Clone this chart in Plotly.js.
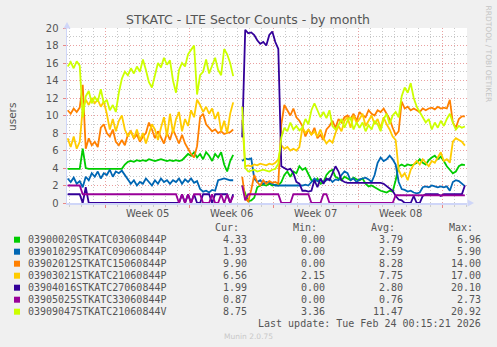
<!DOCTYPE html>
<html><head><meta charset="utf-8">
<script src="https://cdn.plot.ly/plotly-3.0.1.min.js"></script>
<style>html,body{margin:0;padding:0;background:#f0f0f0;}#chart{width:497px;height:347px;}</style>
</head><body><div id="chart"></div>
<script>
// ---- data ----
const startDay = -3.125;   // days relative to start of Week 05
const stepDay = 0.25;      // sample spacing in days
const weekStarts = [0, 7, 14, 21, 28];
const weekCenters = [3.5, 10.5, 17.5, 24.5];
const weekLabels = ['Week 05', 'Week 06', 'Week 07', 'Week 08'];
const yTicks = [0, 2, 4, 6, 8, 10, 12, 14, 16, 18, 20];

const names = ['03900020STKATC03060844P','03901029STKATC09060844P','03902012STKATC15060844P','03903021STKATC21060844P','03904016STKATC27060844P','03905025STKATC33060844P','03909047STKATC21060844V'];
const colors = ['#00cc00','#0066b3','#ff8000','#ffcc00','#330099','#990099','#ccff00'];
const curVals = ['4.33','1.93','9.90','6.56','1.99','0.87','8.75'];
const minVals = ['0.00','0.00','0.00','2.15','0.00','0.00','3.36'];
const avgVals = ['3.79','2.59','8.28','7.75','2.80','0.76','11.47'];
const maxVals = ['6.96','5.90','14.00','17.00','20.10','2.73','20.92'];
const lastUpdate = 'Last update: Tue Feb 24 00:15:21 2026';

const s0 = [3.9,3.9,3.9,3.9,3.9,6.2,
4.0,3.9,3.9,3.9,3.9,3.9,3.9,3.9,3.9,3.9,3.9,3.9,3.9,4.4,
4.7,4.8,4.7,4.9,4.8,4.9,4.8,5.0,4.9,4.8,4.9,5.0,4.9,4.8,4.9,
4.8,4.9,4.8,4.9,5.2,5.6,5.4,5.8,5.2,5.6,5.0,5.8,5.4,4.8,5.6,5.2,5.8,4.4,3.6,4.8,5.5,
null,null,
2.0,1.0,0.2,0.3,0.6,1.8,2.0,2.1,2.0,2.2,2.0,2.1,2.0,
2.4,3.2,3.6,3.0,3.6,3.4,4.2,3.8,4.0,3.2,2.6,2.4,2.8,2.2,2.4,3.2,3.6,3.8,3.0,2.8,2.6,3.0,2.8,2.6,2.9,2.7,2.6,2.8,2.2,
1.9,2.0,1.8,1.6,1.4,1.3,1.2,1.4,1.3,2.6,4.2,4.4,4.2,4.4,4.3,4.4,4.6,5.0,4.6,4.4,4.9,5.2,5.4,5.0,5.3,4.8,4.2,3.8,3.4,3.6,4.2,4.4,4.33];

const s1 = [2.8,2.4,2.9,2.2,2.5,1.8,
3.0,2.6,3.4,3.0,3.6,2.8,3.4,3.2,3.8,3.0,3.6,3.4,3.7,3.2,
2.6,2.2,2.6,2.0,2.4,2.2,2.8,2.4,2.0,2.6,2.2,2.8,2.4,2.6,2.2,
2.6,2.4,2.8,2.2,2.7,2.4,2.8,2.3,2.5,1.6,1.3,1.4,1.2,1.5,1.4,2.6,2.7,2.8,2.7,2.6,2.6,
null,null,
4.8,5.1,5.0,5.1,2.8,2.4,2.6,2.2,2.4,2.3,2.2,2.0,2.0,
2.0,2.0,2.0,2.0,2.0,2.0,2.0,2.0,2.1,2.0,
2.4,2.8,2.5,2.6,2.4,2.6,2.8,2.4,2.7,2.6,3.2,3.6,3.4,2.6,2.8,2.4,2.7,2.8,2.9,2.7,2.4,3.2,
4.6,5.2,4.8,5.0,5.4,5.0,4.4,2.4,1.6,1.5,1.3,1.4,1.2,1.1,1.2,1.8,1.9,1.8,2.0,1.9,1.8,1.9,1.8,1.9,1.4,2.4,2.6,2.5,2.2,1.93];

const s2 = [10.6,10.2,10.8,10.4,10.9,13.5,
6.2,7.4,6.6,7.0,6.4,8.6,9.0,8.0,7.6,8.4,7.0,6.6,7.2,6.6,
7.8,8.2,7.4,7.8,7.0,7.6,8.0,9.2,8.4,7.4,8.2,7.4,6.8,8.0,7.2,8.4,7.6,6.8,7.8,6.8,6.2,5.6,5.2,6.5,
9.8,10.2,9.0,8.6,8.2,8.4,8.0,8.2,7.9,8.0,8.1,8.4,
null,null,
3.0,0.5,0.2,1.5,3.2,2.4,2.0,2.6,2.2,2.5,2.3,2.4,2.2,
9.0,11.2,10.6,10.0,10.8,9.8,9.4,8.8,7.6,8.4,7.8,8.6,7.4,7.8,7.2,8.4,8.8,9.4,8.6,9.6,9.2,9.8,10.0,9.6,10.2,9.4,10.4,10.0,9.8,
10.6,10.2,10.0,10.6,10.4,10.8,10.2,9.6,8.6,7.8,8.2,11.6,10.8,11.0,10.6,10.8,10.6,10.4,10.8,10.6,10.8,10.9,10.7,11.0,10.8,10.9,10.8,11.8,9.2,8.6,9.6,9.9,9.9];

const s3 = [7.4,6.4,7.6,6.2,7.0,10.8,
11.8,11.2,12.0,11.4,11.8,11.0,11.6,10.2,8.4,9.6,8.2,9.4,10.0,8.4,
7.6,8.2,7.4,8.4,7.2,8.0,6.8,7.8,9.0,8.4,7.2,8.6,9.8,7.6,10.2,8.0,9.6,10.4,8.2,9.6,8.8,10.6,9.8,11.8,
11.2,10.4,11.0,10.2,10.8,9.6,10.4,8.2,9.4,8.0,10.2,11.5,
null,null,
9.5,4.2,4.3,4.2,4.4,4.3,4.5,4.4,4.3,4.5,4.4,4.6,5.0,
6.6,6.2,6.4,6.0,6.2,6.0,6.4,8.6,8.0,8.4,7.8,8.2,7.6,8.4,7.4,6.8,7.2,6.9,8.0,8.8,8.2,9.4,9.8,8.6,10.0,9.2,9.6,10.2,8.8,
9.4,10.0,9.0,9.6,8.6,9.8,9.0,8.4,7.6,7.2,3.8,3.0,3.4,2.6,3.8,4.4,4.8,4.4,5.0,4.6,4.2,4.8,4.6,5.2,5.8,4.8,5.0,4.6,7.0,7.4,7.2,7.0,6.56];

const s4 = [1,1,1,1,1,0,1.8,0,
0,0,0,0,0,0,0,0,0,0,0,0,0,0,0,0,0,0,0,0,0,0,0,0,0,0,0,0,0,0,
1,0,1,0,1,0,0,1,1,1,0,1,1,1,1,1,0,1,
null,null,
7.5,19.8,19.4,19.5,19.2,18.6,18.2,18.4,18.0,19.2,19.6,18.4,17.6,
4.2,4.0,3.8,3.9,3.4,2.4,2.2,1.4,1.4,1.3,1.4,2.6,1.8,2.8,2.2,2.8,2.6,3.4,4.2,3.6,2.6,2.4,
2.3,2.3,2.3,2.3,2.3,2.3,2.3,2.3,2.3,2.3,2.3,2.3,
2.2,1.9,1.6,1.4,0.8,0.4,0.3,0,0,0,0.8,0,0,0.8,1,1,1,1,1,0.8,1,1,1,1,1,1,1,2.0];

const s5 = [2,2,2,2,2,
1,1,1,1,1,1,1,1,1,1,1,1,1,1,1,1,1,1,1,1,1,1,1,1,1,1,1,1,1,1,1,1,
0,1,0,1,0,1,1,1,0,0,0,1,0,0,1,0,1,0,0.8,
null,null,
2.0,0.3,1,1,1,1,1,1,1,1,1,1,1,
0,0,0,0,
1,1,1,1,1,1,
0,0,0,0,
1,1,
0,0,0,0,0,0,0,0,0,0,0,0,0,0,0,0,0,0,0,0,0,0,
0.9,0.9,0.9,0.9,0.9,0.9,0.9,0.9,0.9,0.9,0.9,0.9,0.9,0.9,0.9,0.9,0.9,0.9,0.9,0.9,0.9,0.9,0.9,0.87];

const s6 = [15.6,16.1,15.4,16.2,15.7,
9.8,12.2,12.8,11.4,12.1,11.6,13.0,11.4,11.8,10.6,11.2,10.4,12.6,14.2,15.0,
14.6,15.4,14.8,15.6,15.0,16.4,15.2,13.8,13.2,14.5,16.0,15.5,16.6,15.8,16.3,
14.0,12.6,15.2,16.0,15.6,17.0,17.5,18.0,12.4,14.6,15.0,16.4,14.8,15.6,16.6,15.2,14.6,17.6,17.0,16.0,14.5,
null,null,
11.0,4.0,3.6,3.7,3.8,3.6,3.7,3.8,3.7,3.6,3.8,3.9,4.5,
7.5,8.6,8.2,9.2,8.4,8.8,8.3,8.6,9.6,9.0,10.6,11.4,10.6,9.8,10.4,9.7,10.6,8.8,8.4,8.9,9.6,8.6,9.4,9.8,8.4,9.2,8.6,9.2,8.2,
8.9,8.4,9.4,9.0,8.2,9.6,10.2,9.0,10.0,10.4,9.8,12.2,13.2,12.6,13.7,12.0,11.0,10.4,9.8,9.2,9.6,8.4,9.2,8.6,9.4,8.8,9.6,10.2,9.2,8.4,8.8,8.6,8.75];

const series = [s0, s1, s2, s3, s4, s5, s6];

// ---- layout helpers (pixel geometry of the page) ----
const L = 67, R = 467, T = 28, B = 203;
const px = x => (x - L) / (R - L);
const py = y => (B - y) / (B - T);
const FONT = 'DejaVu Sans, sans-serif';
const MONO = 'DejaVu Sans Mono, monospace';
const TXT = '#555555';
const AXC = '#cfd6f8';

const traces = series.map((vals, k) => ({
  type: 'scatter', mode: 'lines', name: names[k],
  x: vals.map((_, i) => startDay + i * stepDay),
  y: vals,
  line: {color: colors[k], width: 1.8},
  connectgaps: false, hoverinfo: 'skip'
}));

const ann = [];
ann.push({xref:'paper', yref:'paper', x: px(12), y: py(117), text:'users', textangle:-90, showarrow:false,
  font:{family:FONT, size:10.5, color:TXT}, xanchor:'center', yanchor:'middle'});
ann.push({xref:'paper', yref:'paper', x: px(488.5), y: py(54), text:'RRDTOOL / TOBI OETIKER', textangle:90, showarrow:false,
  font:{family:FONT, size:7.5, color:'#c4c4c4'}, xanchor:'center', yanchor:'middle'});
weekLabels.forEach((w, k) => ann.push({xref:'x', yref:'paper', x: weekCenters[k], y: py(213), text: w, showarrow:false,
  font:{family:FONT, size:10, color:TXT}, xanchor:'center', yanchor:'middle'}));
const hdr = ['Cur:', 'Min:', 'Avg:', 'Max:'];
const hdrX = [212.5, 290.5, 369, 446.5];
hdr.forEach((h, k) => ann.push({xref:'paper', yref:'paper', x: px(hdrX[k]), y: py(227.7), text: h, showarrow:false,
  font:{family:MONO, size:10, color:TXT}, xanchor:'left', yanchor:'middle'}));
const colR = [248.5, 326.5, 404.5, 483];
const cols = [curVals, minVals, avgVals, maxVals];
const shapes = [];
names.forEach((n, k) => {
  const yy = 239.7 + 12 * k;
  ann.push({xref:'paper', yref:'paper', x: px(26), y: py(yy), text: n, showarrow:false,
    font:{family:MONO, size:10, color:TXT}, xanchor:'left', yanchor:'middle'});
  cols.forEach((c, j) => ann.push({xref:'paper', yref:'paper', x: px(colR[j]), y: py(yy), text: c[k], showarrow:false,
    font:{family:MONO, size:10, color:TXT}, xanchor:'right', yanchor:'middle'}));
  shapes.push({type:'rect', xref:'paper', yref:'paper', x0: px(14), x1: px(20), y0: py(yy - 3), y1: py(yy + 3),
    fillcolor: colors[k], line:{width:0}});
});
ann.push({xref:'paper', yref:'paper', x: px(483), y: py(323.3), text: lastUpdate, showarrow:false,
  font:{family:MONO, size:10, color:TXT}, xanchor:'right', yanchor:'middle'});
ann.push({xref:'paper', yref:'paper', x: px(248), y: py(336), text: 'Munin 2.0.75', showarrow:false,
  font:{family:FONT, size:7.5, color:'#c8c8c8'}, xanchor:'center', yanchor:'middle'});

// axis arrows
shapes.push({type:'path', xref:'paper', yref:'paper', layer:'above',
  path:`M ${px(67)} ${py(22)} L ${px(63.5)} ${py(28.5)} L ${px(70.5)} ${py(28.5)} Z`, fillcolor:AXC, line:{width:0}});
shapes.push({type:'path', xref:'paper', yref:'paper', layer:'above',
  path:`M ${px(474)} ${py(203)} L ${px(467.5)} ${py(199.5)} L ${px(467.5)} ${py(206.5)} Z`, fillcolor:AXC, line:{width:0}});

const layout = {
  width: 497, height: 347,
  margin: {l: L, r: 497 - R, t: T, b: 347 - B, pad: 0},
  paper_bgcolor: '#f0f0f0', plot_bgcolor: '#ffffff',
  showlegend: false,
  title: {text: 'STKATC - LTE Sector Counts - by month', xref:'container', yref:'container',
    x: 248/497, y: 1 - 19.5/347, xanchor:'center', yanchor:'middle',
    font: {family: FONT, size: 12.5, color: TXT}},
  xaxis: {range: [(L - 105.3) / 12.036, (R - 105.3) / 12.036], tickmode:'array', tickvals: weekStarts,
    ticktext: weekStarts.map(() => ''), showgrid: true, gridcolor:'#eaa0a0', griddash:'1px,2px', gridwidth:1,
    ticks:'outside', ticklen:3, tickcolor:'#e88888', zeroline:false,
    showline:true, linecolor:AXC, linewidth:1.5,
    minor:{tickmode:'linear', tick0:0, dtick:1, showgrid:true, gridcolor:'#c8c8c8', griddash:'1px,2px', gridwidth:1,
      ticks:'outside', ticklen:2, tickcolor:'#cccccc'},
    fixedrange:true},
  yaxis: {range: [0, 20], tickmode:'array', tickvals: yTicks, ticktext: yTicks.map(String),
    showgrid:true, gridcolor:'#eaa0a0', griddash:'1px,2px', gridwidth:1,
    ticks:'outside', ticklen:3, tickcolor:'#e88888', zeroline:false,
    showline:true, linecolor:AXC, linewidth:1.5,
    tickfont:{family:FONT, size:10, color:TXT}, ticklabelstandoff: 2,
    minor:{tickmode:'linear', tick0:1, dtick:2, showgrid:true, gridcolor:'#c8c8c8', griddash:'1px,2px', gridwidth:1},
    fixedrange:true},
  annotations: ann,
  shapes: shapes
};

Plotly.newPlot('chart', traces, layout, {staticPlot:true, displayModeBar:false});
</script></body></html>
